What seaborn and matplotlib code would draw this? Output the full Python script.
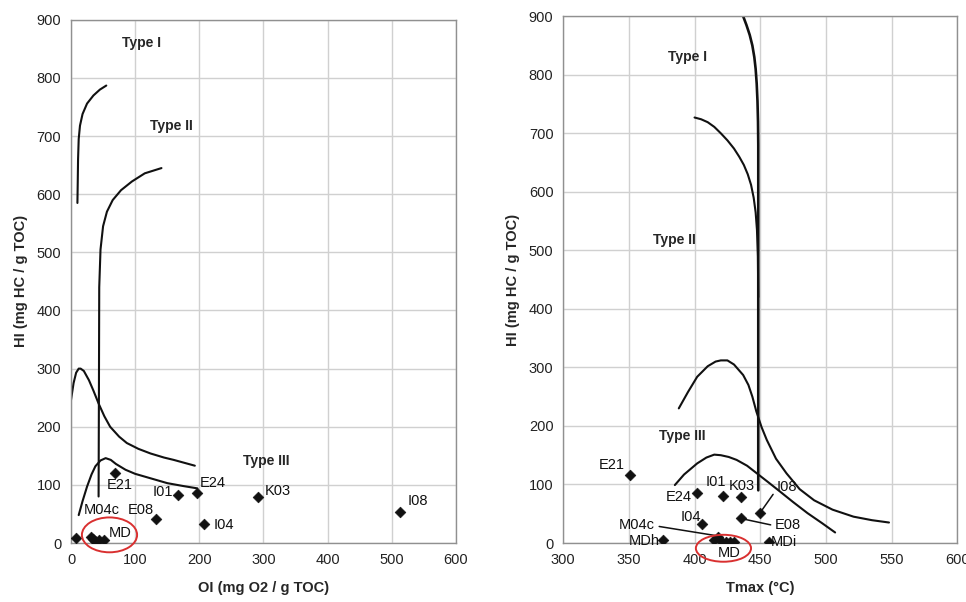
import numpy as np
import pandas as pd
import matplotlib
matplotlib.use("Agg")
import matplotlib.pyplot as plt
import seaborn as sns
from matplotlib.patches import Ellipse

# --- Left panel: HI vs OI ---
OI_NAMES = ["E21", "I01", "E24", "E08", "I04", "K03", "I08", "M04c",
            "MD", "MD", "MD", "MD", "MD"]
OI_VALS = [69, 167, 196, 133, 208, 291, 513, 8, 31, 35, 38, 43, 51]
OI_HI = [120, 83, 86, 41, 33, 79, 53, 9, 10, 7, 4, 6, 6]

# label text, x, y (data coords)
OI_LABELS = [("E21", 76, 100), ("I01", 143, 88), ("E24", 221, 104),
             ("E08", 109, 57), ("I04", 238, 31), ("K03", 322, 90),
             ("I08", 541, 73), ("M04c", 48, 56), ("MD", 76, 18)]

# Type curves (OI, HI)
T1_OI = [10, 10.5, 11, 12, 14, 18, 25, 35, 45, 55]
T1_HI = [585, 620, 660, 695, 718, 738, 756, 770, 780, 787]
T2_OI = [43, 43.5, 44, 46, 50, 56, 65, 78, 95, 115, 141]
T2_HI = [80, 250, 440, 505, 545, 570, 590, 607, 622, 636, 645]
T2B_OI = [0, 4, 8, 12, 15, 20, 28, 35, 43, 52, 61, 75, 87, 105, 124, 145, 160, 193]
T2B_HI = [246, 275, 293, 300, 300, 296, 280, 262, 240, 218, 200, 183, 172, 162, 154, 147, 143, 133]
T3_OI = [12, 18, 25, 32, 38, 46, 54, 62, 70, 85, 100, 125, 150, 175, 197]
T3_HI = [48, 72, 97, 118, 132, 142, 146, 143, 136, 126, 119, 111, 103, 98, 94]

# --- Right panel: HI vs Tmax ---
TM_VALS = [350.5, 402, 421.5, 435.5, 450, 435, 406, 376, 457,
           414.5, 418, 421, 424, 427, 430]
TM_HI = [117, 86, 81, 79, 52, 42, 32, 5, 2, 5, 11, 2, 2, 1, 1]

TM_LABELS = [("E21", 337, 133), ("E24", 388, 79), ("I01", 416, 104),
             ("K03", 436, 97), ("I04", 397, 45), ("MDh", 362, 3),
             ("MDi", 468, 1), ("MD", 426, -17)]
# leader labels: text, text x, y, line end x, y
TM_LEADERS = [("I08", 470, 95, 450, 52, 461, 87),
              ("E08", 471, 30, 435, 42, 460, 30),
              ("M04c", 356, 30, 418, 12, 371, 29)]

R1_TM = [437, 439.5, 442, 444, 445.5, 446.5, 447.3, 447.9, 448.3, 448.5, 448.5, 448.5]
R1_HI = [900, 885, 868, 850, 830, 810, 785, 755, 720, 680, 400, 90]
R2_TM = [400, 405, 410, 415, 420, 425, 430, 434, 437.5, 440.5, 443, 445, 446.5, 447.5, 448.2, 448.5]
R2_HI = [727, 724, 719, 711, 700, 688, 674, 660, 646, 630, 612, 590, 565, 535, 490, 420]
R3_TM = [388, 395, 402, 410, 416, 420, 425, 430, 437, 441, 444, 447, 451, 455, 462, 470, 480, 491, 505, 521, 535, 548]
R3_HI = [230, 258, 284, 302, 310, 312, 312, 305, 287, 270, 250, 225, 198, 176, 144, 119, 92, 73, 57, 45, 39, 35]
R4_TM = [385, 392, 402, 409, 415, 420, 426, 432, 440, 448, 456, 465, 475, 486, 497, 507]
R4_HI = [99, 117, 136, 146, 151, 150, 147, 142, 132, 118, 104, 88, 70, 51, 34, 18]

sns.set_theme(style="whitegrid")
plt.rcParams["font.family"] = ["Liberation Sans", "DejaVu Sans"]

fig = plt.figure(figsize=(9.66, 6.02), dpi=100)
ax1 = fig.add_axes([0.0735, 0.098, 0.3985, 0.869])
ax2 = fig.add_axes([0.583, 0.098, 0.408, 0.875])

GRID = "#d0d0d0"
SPINE = "#909090"


def style_axes(ax, xlim, xticks, xlabel):
    ax.set_xlim(*xlim)
    ax.set_ylim(0, 900)
    ax.set_xticks(xticks)
    ax.set_yticks(range(0, 901, 100))
    ax.grid(True, color=GRID, linewidth=1.0)
    for s in ax.spines.values():
        s.set_color(SPINE)
        s.set_linewidth(1.0)
    ax.tick_params(axis="both", labelsize=10.5, colors="#222222", length=3,
                   color=SPINE, pad=4)
    ax.set_xlabel(xlabel, fontsize=10.5, fontweight="bold", labelpad=10)
    ax.set_ylabel("HI (mg HC / g TOC)", fontsize=10.5, fontweight="bold", labelpad=6)
    ax.set_facecolor("white")


def curve(ax, xs, ys, lw=1.5):
    df = pd.DataFrame({"x": xs, "y": ys})
    sns.lineplot(data=df, x="x", y="y", ax=ax, sort=False, estimator=None,
                 color="#111111", linewidth=lw)


# left panel
for xs, ys in [(T1_OI, T1_HI), (T2_OI, T2_HI), (T2B_OI, T2B_HI), (T3_OI, T3_HI)]:
    curve(ax1, xs, ys)
sns.scatterplot(x=OI_VALS, y=OI_HI, ax=ax1, marker="D", s=30, color="#111111",
                edgecolor="#111111", zorder=5)
for t, x, y in OI_LABELS:
    ax1.text(x, y, t, fontsize=10.5, ha="center", va="center", color="#111111")
ax1.text(110, 860, "Type I", fontsize=10, fontweight="bold", ha="center", va="center")
ax1.text(157, 717, "Type II", fontsize=10, fontweight="bold", ha="center", va="center")
ax1.text(305, 141, "Type III", fontsize=10, fontweight="bold", ha="center", va="center")
ax1.add_patch(Ellipse((60, 14), 86, 60, fill=False, edgecolor="#d93030",
                      linewidth=1.4, clip_on=False, zorder=6))
style_axes(ax1, (0, 600), range(0, 601, 100), "OI (mg O2 / g TOC)")

# right panel
for xs, ys, lw in [(R1_TM, R1_HI, 1.9), (R2_TM, R2_HI, 1.5),
                   (R3_TM, R3_HI, 1.5), (R4_TM, R4_HI, 1.5)]:
    curve(ax2, xs, ys, lw)
sns.scatterplot(x=TM_VALS, y=TM_HI, ax=ax2, marker="D", s=30, color="#111111",
                edgecolor="#111111", zorder=5)
for t, x, y in TM_LABELS:
    ax2.text(x, y, t, fontsize=10.5, ha="center", va="center", color="#111111",
             clip_on=False)
for t, tx, ty, px, py, lx, ly in TM_LEADERS:
    ax2.annotate("", xy=(px, py), xytext=(lx, ly),
                 arrowprops=dict(arrowstyle="-", color="#111111", lw=1.1))
    ax2.text(tx, ty, t, fontsize=10.5, ha="center", va="center", color="#111111")
ax2.text(395, 830, "Type I", fontsize=10, fontweight="bold", ha="center", va="center")
ax2.text(384.5, 517, "Type II", fontsize=10, fontweight="bold", ha="center", va="center")
ax2.text(391, 183, "Type III", fontsize=10, fontweight="bold", ha="center", va="center")
ax2.add_patch(Ellipse((422, -9), 42, 46, fill=False, edgecolor="#d93030",
                      linewidth=1.4, clip_on=False, zorder=6))
style_axes(ax2, (300, 600), range(300, 601, 50), "Tmax (°C)")

fig.savefig("out.png", dpi=100, facecolor="white")
